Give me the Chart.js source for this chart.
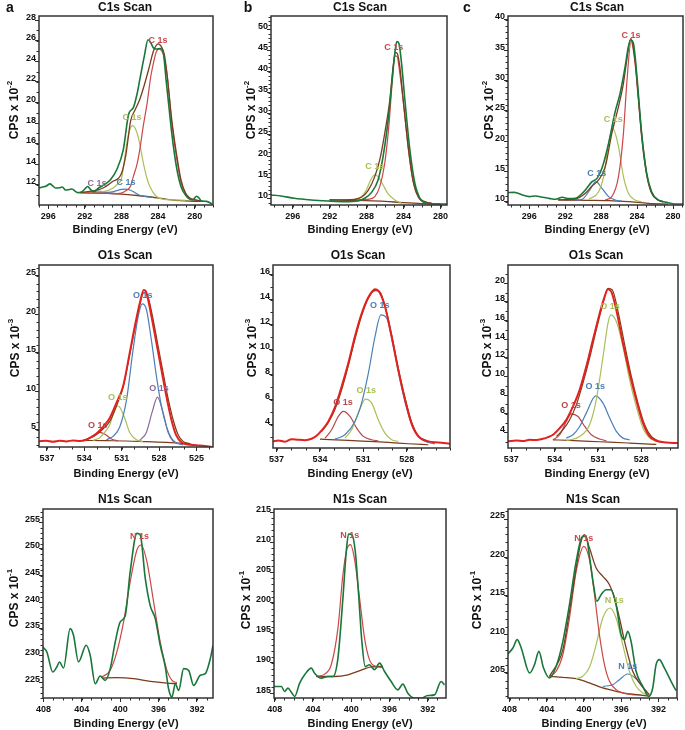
<!DOCTYPE html>
<html><head><meta charset="utf-8">
<script src="https://cdn.jsdelivr.net/npm/chart.js@4/dist/chart.umd.min.js"></script>
<style>
body{margin:0;width:685px;height:730px;position:relative;background:#fff;overflow:hidden;font-family:"Liberation Sans",Arial,sans-serif;color:#111}
canvas{position:absolute}
.t{position:absolute;font-weight:bold;white-space:nowrap;transform:translate(-50%,-50%);line-height:1}
.ttl{font-size:12px}
.xt{font-size:11px}
.yt{font-size:12px;transform:translate(-50%,-50%) rotate(-90deg)}
.yt sup{font-size:8px;position:relative;top:-1px}
.let{font-size:14px}
</style></head><body>
<script>
// ---------- tick labels ----------
const C1S_X=[296,292,288,284,280];
const O1S_X_A=[537,534,531,528,525];
const O1S_X_BC=[537,534,531,528];
const N1S_X=[408,404,400,396,392];
const A1_Y=[12,14,16,18,20,22,24,26,28];
const B1_Y=[10,15,20,25,30,35,40,45,50];
const C1_Y=[10,15,20,25,30,35,40];
const A2_Y=[5,10,15,20,25];
const B2_Y=[4,6,8,10,12,14,16];
const C2_Y=[4,6,8,10,12,14,16,18,20];
const A3_Y=[225,230,235,240,245,250,255];
const B3_Y=[185,190,195,200,205,210,215];
const C3_Y=[205,210,215,220,225];

// ---------- C1s scan (a) ----------
const a1Raw=[[297,11.7],[296.6,11.8],[296.2,11.9],[295.8,12.1],[295.5,11.9],[295.2,11.7],[294.8,11.72],[294.45,11.8],[294.1,11.5],[293.7,11.55],[293.4,11.6],[293.0,11.35],[292.75,11.25],[292.3,11.35],[292.0,11.6],[291.7,11.85],[291.3,11.5],[291.0,11.35],[290.5,11.7],[289.9,12.0],[289.2,12.5],[288.5,13.5],[287.8,15.4],[287.2,18.9],[286.7,19.5],[286.3,20.8],[286.0,22.2],[285.5,24.5],[285.1,26.1],[284.8,25.8],[284.5,25.3],[284.2,25.2],[283.7,25.25],[283.4,24.7],[283.1,22.0],[282.8,19.5],[282.5,17.0],[282.0,13.8],[281.5,11.85],[280.9,10.9],[280.5,10.6],[280.2,10.55],[279.8,10.9],[279.5,10.7],[279.3,10.45],[278.7,10.4],[278.1,10.15]];
const a1Env=[[292.6,11.25],[291,11.45],[290,11.7],[289,12.3],[288,13.1],[287.5,15.0],[287,18.2],[286.5,19.3],[286,20.3],[285.5,21.7],[285,23.3],[284.5,25.0],[284,25.7],[283.7,25.5],[283.3,24.6],[283,22.6],[282.5,18.3],[282,15.1],[281.5,12.5],[281,11.2],[280.5,10.7],[280,10.55],[279.3,10.45]];
const a1Red=[[292.5,11.25],[290,11.2],[288.5,11.15],[288,11.2],[287.4,11.5],[287,11.9],[286.7,12.8],[286.3,14.0],[286,15.4],[285.6,17.8],[285.2,19.9],[284.8,22.5],[284.5,23.85],[284.2,24.9],[283.9,25.2],[283.6,25.0],[283.4,24.6],[283,22.6],[282.5,18.0],[282,14.8],[281.5,12.3],[280.9,11.0],[280.2,10.6],[279.5,10.45]];
const a1Olive=[[292.5,11.25],[290,11.35],[288.9,11.7],[288.4,12.1],[288,12.6],[287.7,14.2],[287.4,16.1],[287.1,17.3],[286.8,17.75],[286.5,17.5],[286.1,16.4],[285.6,14.1],[285.2,12.6],[284.9,11.85],[284.2,10.9],[283.4,10.6],[282.4,10.55],[281,10.5]];
const a1Blue=[[292.5,11.25],[290.5,11.25],[289.2,11.3],[288.5,11.45],[288,11.57],[287.6,11.6],[287.2,11.55],[286.7,11.35],[286,11.0],[285.2,10.85],[284.5,10.8]];
const a1Purple=[[292.5,11.25],[291.5,11.3],[291,11.38],[290.5,11.4],[290,11.35],[289.5,11.25],[289,11.2],[288.5,11.15]];
const a1Base=[[292.6,11.25],[290,11.2],[288,11.1],[286,10.95],[285,10.85],[283,10.6],[281,10.45],[279.3,10.4]];
const a1Labels=[["C 1s",284.0,26.0],["C 1s",286.84,18.5],["C 1s",287.5,12.28],["C 1s",290.67,12.09]];

// ---------- C1s scan (b) ----------
const b1Raw=[[298.36,10.79],[297.27,10.55],[295.82,10.0],[294.01,9.61],[292.2,9.37],[290.38,9.21],[288.93,9.37],[288.21,10.0],[287.49,11.34],[286.76,14.34],[286.22,19.86],[285.67,28.54],[285.24,38.01],[284.95,44.32],[284.73,47.08],[284.51,46.69],[284.22,41.95],[283.86,33.27],[283.32,21.44],[282.78,13.55],[282.23,10.0],[281.51,8.82],[280.6,8.66],[279.26,8.66]];
const b1Env=[[292.01,9.61],[289.3,9.76],[288.57,10.24],[287.85,11.81],[287.12,15.13],[286.58,19.07],[286.04,25.38],[285.49,33.27],[285.13,41.16],[284.88,44.56],[284.66,44.16],[284.41,41.16],[284.04,33.27],[283.5,22.23],[282.96,13.94],[282.41,10.39],[281.69,9.21],[280.96,8.82]];
const b1Red=[[289.3,9.61],[287.85,9.76],[287.12,10.39],[286.58,12.76],[286.04,18.28],[285.6,26.96],[285.24,37.22],[284.95,43.69],[284.7,43.53],[284.41,39.59],[283.93,30.91],[283.43,20.65],[282.88,13.16],[282.34,10.0],[281.62,9.05],[280.89,8.82]];
const b1Olive=[[289.3,9.76],[288.57,10.39],[288.03,11.97],[287.56,14.34],[287.12,15.52],[286.69,14.97],[286.22,13.16],[285.67,11.03],[284.95,9.61],[284.22,8.82]];
const b1Base=[[292.01,9.61],[290.02,9.53],[288.03,9.45],[286.04,9.29],[284.04,8.97],[282.05,8.74],[280,8.66]];
const b1Labels=[["C 1s",285.07,45.65],["C 1s",287.13,17.48]];

// ---------- C1s scan (c) ----------
const c1Raw=[[298.39,11.49],[297.66,11.54],[296.74,11.1],[296.0,10.83],[295.26,10.94],[294.53,10.72],[293.79,10.55],[293.06,10.39],[292.32,10.72],[291.59,10.5],[290.85,10.55],[290.3,11.1],[289.75,11.93],[289.01,13.3],[288.46,13.85],[287.91,15.5],[287.17,19.63],[286.44,24.86],[285.89,27.89],[285.33,32.29],[284.97,35.59],[284.71,36.69],[284.41,36.14],[284.05,31.19],[283.5,21.28],[282.94,14.68],[282.39,11.65],[281.66,10.28],[281.1,10.0],[280.55,9.83],[279.82,9.61],[278.9,9.61]];
const c1Env=[[292.8,10.28],[290.85,10.44],[289.75,11.38],[289.01,12.59],[288.28,13.58],[287.54,15.78],[286.81,21.28],[286.07,25.69],[285.52,29.54],[285.15,33.39],[284.71,36.97],[284.23,33.39],[283.86,27.34],[283.5,21.28],[282.94,14.68],[282.39,11.49],[281.66,10.28],[281.1,10.0]];
const c1Red=[[287.54,10.28],[286.81,10.83],[286.07,14.13],[285.52,21.28],[285.15,29.54],[284.67,36.42],[284.23,32.84],[283.86,26.79],[283.5,20.73],[282.94,14.4],[282.39,11.38],[281.66,10.28],[281.1,10.0]];
const c1Olive=[[289.38,10.39],[288.28,11.65],[287.72,14.13],[287.17,19.63],[286.7,22.11],[286.07,19.08],[285.52,14.13],[284.97,11.38],[284.23,10.28],[283.5,10.0]];
const c1Blue=[[290.85,10.28],[290.12,10.39],[289.38,11.65],[288.57,13.3],[287.91,12.2],[287.17,10.83],[286.44,10.28],[285.7,10.11]];
const c1Base=[[292.8,10.28],[289.38,10.22],[287.17,10.17],[284.97,10.0],[282.76,9.72],[280.55,9.61]];
const c1Labels=[["C 1s",284.68,37.36],["C 1s",286.65,23.6],["C 1s",288.49,14.68]];

// ---------- O1s scan (a) ----------
const a2Raw=[[537.64,3.48],[537.05,3.57],[536.52,3.44],[535.98,3.57],[535.45,3.48],[534.91,3.61],[534.37,3.53],[533.84,3.7],[533.44,4.05],[533.04,4.48],[532.5,5.35],[531.96,6.52],[531.43,8.46],[530.89,10.63],[530.36,14.96],[529.95,18.42],[529.55,21.45],[529.23,23.18],[529.02,22.84],[528.62,19.81],[528.21,16.26],[527.81,12.79],[527.41,9.33],[527.01,6.3],[526.61,4.22],[526.2,3.35],[525.8,3.1],[525.0,2.97],[524.33,2.88],[523.66,2.75]];
const a2Env=[[533.84,3.7],[533.04,4.35],[532.5,5.09],[531.96,6.08],[531.43,8.03],[530.89,10.54],[530.36,14.74],[529.95,18.2],[529.55,21.23],[529.23,22.84],[528.88,22.23],[528.48,19.37],[528.08,15.91],[527.68,12.45],[527.28,9.11],[526.87,6.3],[526.47,4.35],[526.07,3.48],[525.53,3.18]];
const a2Blue=[[532.23,3.7],[531.7,4.13],[531.16,5.35],[530.62,8.81],[530.09,15.39],[529.69,19.63],[529.34,21.36],[529.02,20.67],[528.62,16.69],[528.21,11.93],[527.81,8.03],[527.41,5.43],[527.01,3.92],[526.61,3.27],[526.07,3.05]];
const a2Green=[[533.3,3.61],[532.77,3.96],[532.37,4.65],[531.96,5.65],[531.56,7.6],[531.37,8.12],[531.16,7.94],[530.76,6.52],[530.36,4.65],[529.82,3.7],[529.28,3.48]];
const a2Purple=[[529.55,3.61],[529.02,4.65],[528.54,7.38],[528.13,9.24],[527.68,7.25],[527.28,4.65],[526.87,3.48],[526.34,3.18]];
const a2DkRed=[[534.11,3.61],[533.57,3.92],[533.17,4.35],[532.77,4.65],[532.29,4.35],[531.83,3.79],[531.29,3.53]];
const a2Base=[[534.11,3.61],[532.23,3.57],[530.62,3.53],[529.02,3.44],[527.41,3.35],[526.07,3.23],[525.4,3.14]];
const a2Labels=[["O 1s",529.31,22.4],["O 1s",528.0,10.3],["O 1s",531.32,9.25],["O 1s",532.93,5.61]];

// ---------- O1s scan (b) ----------
const b2Raw=[[537.23,2.67],[536.88,2.75],[536.42,2.64],[535.96,2.85],[535.5,2.8],[535.04,2.77],[534.58,2.88],[534.23,3.12],[533.88,3.55],[533.42,4.27],[532.96,5.41],[532.5,7.07],[532.04,8.93],[531.58,11.07],[531.12,12.88],[530.65,14.21],[530.19,14.85],[529.96,14.75],[529.5,13.47],[529.04,11.07],[528.58,8.4],[528.11,6.0],[527.65,4.05],[527.19,3.07],[526.5,2.67],[525.81,2.59],[525.0,2.48]];
const b2Env=[[533.88,3.47],[533.42,4.19],[532.96,5.25],[532.5,6.8],[532.04,8.72],[531.58,10.85],[531.12,12.72],[530.65,14.13],[530.19,14.75],[529.85,14.64],[529.5,13.52],[529.04,11.2],[528.58,8.53],[528.11,6.13],[527.65,4.19],[527.19,3.12],[526.5,2.67]];
const b2Blue=[[532.96,2.85],[532.27,3.2],[531.58,4.27],[531.12,5.73],[530.65,8.13],[530.19,11.07],[529.78,12.8],[529.38,12.53],[528.92,10.27],[528.46,7.6],[528.0,5.33],[527.54,3.73],[527.08,2.93],[526.5,2.59],[526.04,2.48]];
const b2Green=[[532.27,2.93],[531.81,3.6],[531.35,4.93],[530.84,6.05],[530.42,5.73],[529.96,4.4],[529.5,3.33],[529.04,2.8],[528.58,2.67]];
const b2DkRed=[[533.65,2.93],[533.19,3.6],[532.73,4.67],[532.38,5.07],[531.92,4.67],[531.46,3.73],[531.0,3.07],[530.42,2.8],[529.96,2.72]];
const b2Base=[[534.0,2.85],[532.04,2.75],[530.65,2.67],[529.27,2.59],[527.88,2.48],[526.5,2.4]];
const b2Labels=[["O 1s",529.87,13.52],["O 1s",530.79,6.73],["O 1s",532.41,5.77]];

// ---------- O1s scan (c) ----------
const c2Raw=[[537.23,3.04],[536.65,3.14],[536.19,3.07],[535.73,3.21],[535.27,3.18],[534.81,3.32],[534.46,3.5],[534.12,3.75],[533.65,4.46],[533.19,5.36],[532.73,6.79],[532.27,8.57],[531.81,11.07],[531.35,13.93],[530.88,16.79],[530.54,18.57],[530.31,19.36],[530.08,19.11],[529.73,17.14],[529.27,13.57],[528.81,10.36],[528.35,7.5],[527.88,5.0],[527.42,3.57],[526.96,3.11],[526.27,2.93],[525.46,2.86]];
const c2Env=[[533.88,3.57],[533.42,4.29],[532.96,5.36],[532.5,6.96],[532.04,9.29],[531.58,11.96],[531.12,15.0],[530.65,17.86],[530.31,19.46],[530.01,19.29],[529.61,16.96],[529.15,13.39],[528.69,10.0],[528.23,7.14],[527.77,4.82],[527.31,3.57],[526.85,3.11]];
const c2Green=[[533.19,3.11],[532.27,3.57],[531.58,4.82],[531.12,7.5],[530.65,12.14],[530.31,15.71],[530.12,16.61],[529.73,15.89],[529.27,13.21],[528.81,9.64],[528.35,6.79],[527.88,4.46],[527.42,3.39],[526.96,3.04]];
const c2Blue=[[533.19,3.39],[532.73,3.75],[532.27,4.64],[531.81,6.07],[531.16,7.93],[530.65,7.14],[530.19,5.54],[529.73,4.11],[529.27,3.39],[528.81,3.21]];
const c2DkRed=[[534.12,3.21],[533.65,3.75],[533.19,5.18],[532.85,6.0],[532.38,5.71],[531.92,4.64],[531.46,3.75],[530.88,3.29],[530.42,3.11]];
const c2Base=[[534.12,3.21],[532.96,3.14],[531.58,3.04],[530.19,2.96],[528.81,2.86],[527.42,2.75],[526.96,2.71]];
const c2Labels=[["O 1s",530.17,17.56],["O 1s",531.19,8.9],["O 1s",532.87,6.87]];

// ---------- N1s scan (a) ----------
const a3Raw=[[408.07,231.59],[407.65,230.65],[407.03,226.88],[406.61,227.82],[406.33,228.77],[405.91,227.64],[405.22,235.04],[404.87,233.79],[404.35,228.77],[403.55,231.91],[403.13,230.02],[402.61,224.69],[402.09,226.13],[401.57,225.31],[401.04,227.51],[400.52,232.53],[400.0,236.3],[399.48,237.43],[398.96,245.72],[398.26,252.93],[397.91,252.62],[397.39,244.46],[396.87,239.31],[396.35,236.93],[395.83,231.91],[395.3,227.82],[394.96,223.74],[394.61,222.18],[394.26,224.69],[393.91,223.43],[393.39,227.51],[392.87,227.2],[392.35,224.37],[391.65,226.26],[391.13,226.57],[390.61,229.39],[390.33,231.91]];
const a3Red=[[401.91,225.94],[401.04,227.2],[400.35,230.65],[399.65,236.3],[398.96,243.83],[398.26,249.8],[397.81,250.74],[397.22,247.6],[396.52,240.07],[395.83,232.53],[395.13,227.2],[394.61,225.31],[394.09,224.87]];
const a3Base=[[401.91,225.75],[400.35,225.82],[398.61,225.63],[396.87,225.13],[395.13,224.81],[394.09,224.69]];
const a3Labels=[["N 1s",398.0,252.3]];

// ---------- N1s scan (b) ----------
const b3Raw=[[408.07,186.1],[407.3,186.1],[406.96,185.28],[406.61,185.83],[406.26,185.17],[405.91,184.45],[405.39,186.66],[404.87,188.04],[404.17,189.14],[403.83,188.31],[403.13,187.49],[402.43,187.76],[401.91,187.76],[401.39,190.8],[400.87,200.75],[400.52,208.48],[400.28,211.35],[399.93,211.24],[399.58,208.48],[399.23,201.3],[398.89,193.56],[398.54,189.4],[398.09,189.7],[397.57,188.87],[397.04,189.97],[396.52,188.59],[395.83,186.93],[395.13,185.55],[394.61,186.49],[394.09,185.0],[393.39,184.17],[392.7,184.17],[392.0,184.61],[391.3,184.72],[390.61,186.93],[390.26,186.38]];
const b3Red=[[403.65,187.76],[402.78,188.15],[402.09,189.7],[401.39,195.77],[400.87,204.61],[400.42,209.03],[400.07,209.59],[399.65,207.1],[399.13,200.75],[398.61,194.12],[398.09,190.52],[397.39,189.42],[396.7,189.25]];
const b3Base=[[403.65,187.76],[401.74,187.76],[400.35,188.04],[398.96,188.81],[397.91,189.36],[396.7,189.42]];
const b3Labels=[["N 1s",400.16,211.08]];

// ---------- N1s scan (c) ----------
const c3Raw=[[408.18,207.47],[407.64,208.25],[407.18,209.33],[406.75,208.25],[405.85,205.0],[405.32,206.08],[404.85,207.81],[404.35,205.65],[403.71,204.35],[402.99,205.87],[402.27,209.11],[401.56,213.87],[400.84,219.5],[400.13,222.75],[399.77,222.75],[399.41,220.15],[398.98,216.47],[398.62,214.31],[398.16,215.17],[397.62,215.82],[397.08,215.82],[396.55,213.87],[396.01,209.98],[395.65,209.33],[395.29,210.41],[394.94,209.11],[394.4,205.22],[393.68,203.27],[393.04,201.97],[392.61,203.05],[392.25,206.08],[391.89,206.73],[391.36,205.65],[390.64,203.92],[390.1,202.71]];
const c3Env=[[403.71,204.57],[402.27,208.03],[401.56,213.01],[400.84,218.64],[400.31,222.1],[399.95,222.97],[399.41,221.23],[398.69,218.64],[397.98,217.55],[397.26,216.47],[396.73,214.74],[396.19,212.14],[395.47,208.25],[394.76,205.22],[394.04,203.7],[393.15,202.4],[392.97,202.19]];
const c3Red=[[403.71,204.57],[402.99,205.22],[402.27,207.38],[401.56,212.14],[400.84,218.2],[400.02,221.45],[399.41,219.72],[398.87,215.17],[398.34,209.98],[397.8,206.08],[397.26,203.92],[396.55,202.84],[395.83,202.4],[394.76,202.19]];
const c3Olive=[[400.84,204.26],[400.13,204.57],[399.41,205.74],[398.69,208.68],[397.98,212.14],[397.19,213.44],[396.55,212.14],[395.83,208.68],[395.12,205.22],[394.4,203.27],[393.68,202.4],[392.97,202.1]];
const c3Blue=[[397.98,203.27],[396.9,203.48],[396.19,204.13],[395.29,204.87],[394.58,204.44],[393.86,203.48],[393.15,202.4]];
const c3Base=[[403.71,204.57],[402.27,204.44],[400.84,204.26],[399.41,203.7],[397.98,203.05],[396.55,202.62],[395.12,202.27],[393.68,202.1],[392.97,201.97]];
const c3Labels=[["N 1s",400.03,222.5],["N 1s",396.74,214.35],["N 1s",395.3,205.82]];

// ---------- styles ----------
const FONT='"Liberation Sans", Arial, sans-serif';
const GREEN='#19773a', RED='#cc4747', BROWN='#7a3c1c', OLIVE='#a8c058', BLUE='#4a80b8', PURPLE='#8c6a9c', RAWRED='#e3211f', DKRED='#b8484c';

const panels=[
 {box:[39,16,213,205], x:[278,297], xt:C1S_X, xm:1, y:[10.05,28.4], yt:A1_Y, ym:1,
  series:[[a1Raw,GREEN,1.6],[a1Env,BROWN,1.3],[a1Red,RED,1.2],[a1Olive,OLIVE,1.2],[a1Blue,BLUE,1.2],[a1Purple,PURPLE,1.2],[a1Base,BROWN,1.3]],
  labels:a1Labels, lc:[RED,OLIVE,BLUE,PURPLE]},
 {box:[271,16,447,205], x:[279.3,298.35], xt:C1S_X, xm:1, y:[8.41,53.15], yt:B1_Y, ym:1,
  series:[[b1Raw,GREEN,1.6],[b1Env,BROWN,1.3],[b1Red,RED,1.2],[b1Olive,OLIVE,1.2],[b1Base,BROWN,1.3]],
  labels:b1Labels, lc:[RED,OLIVE]},
 {box:[508,16,683,205], x:[278.9,298.35], xt:C1S_X, xm:1, y:[9.45,40.66], yt:C1_Y, ym:1,
  series:[[c1Raw,GREEN,1.6],[c1Env,BROWN,1.3],[c1Red,RED,1.2],[c1Olive,OLIVE,1.2],[c1Blue,BLUE,1.2],[c1Base,BROWN,1.3]],
  labels:c1Labels, lc:[RED,OLIVE,BLUE]},
 {box:[39,265,213,447], x:[523.67,537.64], xt:O1S_X_A, xm:1, y:[2.75,26.43], yt:A2_Y, ym:1,
  series:[[a2Raw,RAWRED,2],[a2Env,BROWN,1.2],[a2Blue,BLUE,1.2],[a2Green,OLIVE,1.2],[a2Purple,PURPLE,1.2],[a2DkRed,DKRED,1.2],[a2Base,BROWN,1.2]],
  labels:a2Labels, lc:[BLUE,PURPLE,OLIVE,DKRED]},
 {box:[273,265,450,448], x:[525,537.25], xt:O1S_X_BC, xm:1, y:[2.14,16.8], yt:B2_Y, ym:1,
  series:[[b2Raw,RAWRED,2],[b2Env,BROWN,1.2],[b2Blue,BLUE,1.2],[b2Green,OLIVE,1.2],[b2DkRed,DKRED,1.2],[b2Base,BROWN,1.2]],
  labels:b2Labels, lc:[BLUE,OLIVE,DKRED]},
 {box:[508,265,678,448], x:[525.46,537.23], xt:O1S_X_BC, xm:1, y:[2.33,21.96], yt:C2_Y, ym:1,
  series:[[c2Raw,RAWRED,2],[c2Env,BROWN,1.2],[c2Green,OLIVE,1.2],[c2Blue,BLUE,1.2],[c2DkRed,DKRED,1.2],[c2Base,BROWN,1.2]],
  labels:c2Labels, lc:[OLIVE,BLUE,DKRED]},
 {box:[43,509,213,698], x:[390.33,408.05], xt:N1S_X, xm:1, y:[222,257.5], yt:A3_Y, ym:1,
  series:[[a3Raw,GREEN,1.6],[a3Red,RED,1.2],[a3Base,BROWN,1.3]],
  labels:a3Labels, lc:[RED]},
 {box:[274,509,446,698], x:[390.1,408.07], xt:N1S_X, xm:1, y:[184.2,215.5], yt:B3_Y, ym:1,
  series:[[b3Raw,GREEN,1.6],[b3Red,RED,1.2],[b3Base,BROWN,1.3]],
  labels:b3Labels, lc:[RED]},
 {box:[508,509,677,698], x:[390,408.17], xt:N1S_X, xm:1, y:[201.75,226.3], yt:C3_Y, ym:1,
  series:[[c3Raw,GREEN,1.6],[c3Env,BROWN,1.3],[c3Red,RED,1.2],[c3Olive,OLIVE,1.2],[c3Blue,BLUE,1.2],[c3Base,BROWN,1.3]],
  labels:c3Labels, lc:[RED,OLIVE,BLUE]}
];

const framePlugin={id:'frame',afterDraw(ch){
  const p=ch.options.plugins.frame.p; const ctx=ch.ctx, a=ch.chartArea, xs=ch.scales.x, ys=ch.scales.y;
  ctx.save();
  ctx.strokeStyle='#2a2a2a'; ctx.lineWidth=1;
  ctx.beginPath();
  const x0=Math.ceil(p.x[0]/p.xm);
  for(let i=x0;i*p.xm<=p.x[1];i++){const px=Math.round(xs.getPixelForValue(i*p.xm))+0.5;ctx.moveTo(px,a.bottom);ctx.lineTo(px,a.bottom+2.5);}
  const y0=Math.ceil(p.y[0]/p.ym);
  for(let i=y0;i*p.ym<=p.y[1];i++){const py=Math.round(ys.getPixelForValue(i*p.ym))+0.5;ctx.moveTo(a.left,py);ctx.lineTo(a.left-2.5,py);}
  ctx.stroke();
  ctx.lineWidth=1.5; ctx.strokeStyle='#333';
  ctx.strokeRect(a.left,a.top,a.right-a.left,a.bottom-a.top);
  ctx.font='bold 9px '+FONT; ctx.textAlign='center'; ctx.textBaseline='middle';
  p.labels.forEach((l,k)=>{ctx.fillStyle=p.lc[k];ctx.fillText(l[0],xs.getPixelForValue(l[1]),ys.getPixelForValue(l[2]));});
  ctx.restore();
}};

const padL=34,padT=6,padR=6,padB=24;
panels.forEach(p=>{
  const [L,T,R,B]=p.box;
  const w=R-L+padL+padR, h=B-T+padT+padB;
  const c=document.createElement('canvas');
  c.width=w;c.height=h;c.style.left=(L-padL)+'px';c.style.top=(T-padT)+'px';c.style.width=w+'px';c.style.height=h+'px';
  document.body.appendChild(c);
  const tickFont={family:FONT,size:9,weight:'bold'};
  new Chart(c,{type:'line',
    data:{datasets:p.series.map(s=>({data:s[0].map(d=>({x:d[0],y:d[1]})),borderColor:s[1],borderWidth:s[2],pointRadius:0,cubicInterpolationMode:'monotone',fill:false}))},
    options:{responsive:false,animation:false,devicePixelRatio:1,events:[],
      layout:{autoPadding:false,padding:{top:padT,right:padR,left:0,bottom:0}},
      plugins:{legend:{display:false},tooltip:{enabled:false},frame:{p}},
      scales:{
        x:{type:'linear',reverse:true,min:p.x[0],max:p.x[1],
          afterBuildTicks:s=>{s.ticks=p.xt.map(v=>({value:v}));},
          afterFit:s=>{s.height=padB;},
          grid:{drawOnChartArea:false,drawTicks:true,tickLength:4,color:'#2a2a2a',lineWidth:1},
          border:{display:false},
          ticks:{color:'#111',font:tickFont,padding:2,maxRotation:0,autoSkip:false}},
        y:{type:'linear',min:p.y[0],max:p.y[1],
          afterBuildTicks:s=>{s.ticks=p.yt.map(v=>({value:v}));},
          afterFit:s=>{s.width=padL;},
          grid:{drawOnChartArea:false,drawTicks:true,tickLength:4,color:'#2a2a2a',lineWidth:1},
          border:{display:false},
          ticks:{color:'#111',font:tickFont,padding:-1,labelOffset:-3,autoSkip:false}}
      }},
    plugins:[framePlugin]});
});

// ---------- text ----------
const texts=[
 ['let','a',10,7],['let','b',248,7],['let','c',467,7],
 ['ttl','C1s Scan',125,7],['ttl','C1s Scan',360,7],['ttl','C1s Scan',597,7],
 ['ttl','O1s Scan',125,255],['ttl','O1s Scan',358,255],['ttl','O1s Scan',596,255],
 ['ttl','N1s Scan',125,499],['ttl','N1s Scan',360,499],['ttl','N1s Scan',593,499],
 ['xt','Binding Energy (eV)',125,229],['xt','Binding Energy (eV)',360,229],['xt','Binding Energy (eV)',597,229],
 ['xt','Binding Energy (eV)',126,473],['xt','Binding Energy (eV)',360,473],['xt','Binding Energy (eV)',597,473],
 ['xt','Binding Energy (eV)',126,723],['xt','Binding Energy (eV)',360,723],['xt','Binding Energy (eV)',594,723],
 ['yt','CPS x 10<sup>-2</sup>',13,110],['yt','CPS x 10<sup>-2</sup>',250,110],['yt','CPS x 10<sup>-2</sup>',488,110],
 ['yt','CPS x 10<sup>-3</sup>',14,348],['yt','CPS x 10<sup>-3</sup>',251,348],['yt','CPS x 10<sup>-3</sup>',486,348],
 ['yt','CPS x 10<sup>-1</sup>',13,598],['yt','CPS x 10<sup>-1</sup>',245,600],['yt','CPS x 10<sup>-1</sup>',476,600]
];
texts.forEach(([cls,html,x,y])=>{const d=document.createElement('div');d.className='t '+cls;d.innerHTML=html;d.style.left=x+'px';d.style.top=y+'px';document.body.appendChild(d);});
</script>
</body></html>
